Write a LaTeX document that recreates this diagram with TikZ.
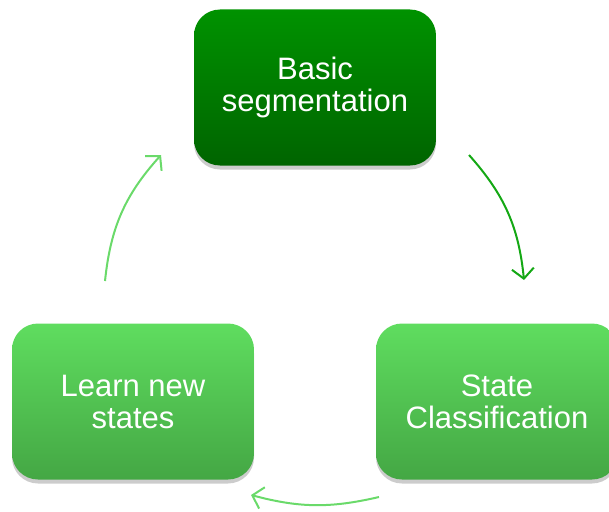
\documentclass[tikz,border=0pt]{standalone}
\usepackage{fontspec}
\setmainfont{Liberation Sans}
\usetikzlibrary{positioning, arrows.meta, shadows, calc}

\definecolor{darktop}{HTML}{009200}
\definecolor{darkbot}{HTML}{006400}
\definecolor{lighttop}{HTML}{5FDD5F}
\definecolor{lightbot}{HTML}{44A744}
\definecolor{darkarrow}{HTML}{14A814}
\definecolor{lightarrow}{HTML}{6ADA6A}

\tikzset{
    stagebox/.style={rounded corners=26pt, minimum width=242pt, minimum height=156pt,
        align=center, text=white, font=\fontsize{31}{32}\selectfont,
        drop shadow={shadow xshift=0pt, shadow yshift=-4pt, opacity=0.2, fill=black}},
    darkstage/.style={stagebox, top color=darktop, bottom color=darkbot},
    lightstage/.style={stagebox, top color=lighttop, bottom color=lightbot},
    cyclearrow/.style={line width=2pt, -{Straight Barb[length=10pt, width=22pt, line width=2pt]}}
}

\begin{document}
\begin{tikzpicture}[x=1pt, y=-1pt]
        \useasboundingbox (0,0) rectangle (609,511);

        % the three stages
        \node[darkstage] (seg) at (315,87.5) {Basic\\segmentation};
        \node[lightstage] (classify) at (497,401.5) {State\\Classification};
        \node[lightstage] (learn) at (133,401.5) {Learn new\\states};

        % arrow end points
        \coordinate (segout) at (469,155);
        \coordinate (classin) at (524,280);
        \coordinate (classout) at (379,497);
        \coordinate (learnin) at (251,495);
        \coordinate (learnout) at (105,281);
        \coordinate (segin) at (161,155);

        % arrows around the cycle
        \draw[cyclearrow, darkarrow] (segout) to[bend left=18] (classin);
        \draw[cyclearrow, lightarrow] (classout) to[bend left=14] (learnin);
        \draw[cyclearrow, lightarrow] (learnout) to[bend left=18] (segin);
    \end{tikzpicture}
\end{document}
